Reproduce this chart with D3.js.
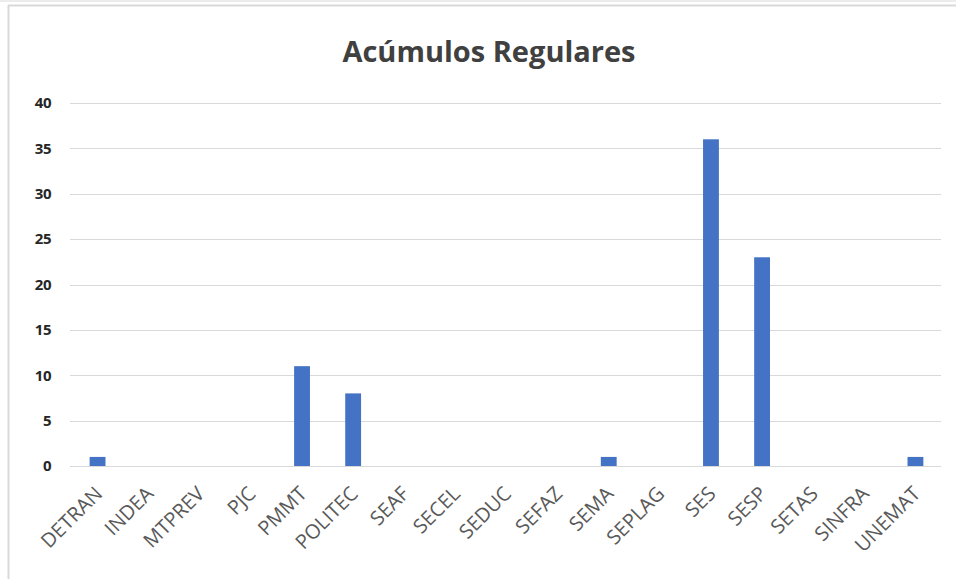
<!DOCTYPE html>
<html><head><meta charset="utf-8">
<script src="https://cdn.jsdelivr.net/npm/d3@7/dist/d3.min.js"></script>
<style>body{margin:0;background:#fff;} svg{display:block;}</style>
</head><body>
<script>
const categories = ["DETRAN","INDEA","MTPREV","PJC","PMMT","POLITEC","SEAF","SECEL","SEDUC","SEFAZ","SEMA","SEPLAG","SES","SESP","SETAS","SINFRA","UNEMAT"];
const values = [1,0,0,0,11,8,0,0,0,0,1,0,36,23,0,0,1];
const yTicks = [0,5,10,15,20,25,30,35,40];
const title = "Acúmulos Regulares";

const W = 956, H = 579;
const svg = d3.select("body").append("svg").attr("width", W).attr("height", H);
svg.append("rect").attr("width", W).attr("height", H).attr("fill", "#fff");
// frame
svg.append("line").attr("x1",0).attr("x2",W).attr("y1",1).attr("y2",1).attr("stroke","#ececec").attr("stroke-width",2);
svg.append("line").attr("x1",8).attr("x2",W).attr("y1",5.5).attr("y2",5.5).attr("stroke","#d9d9d9").attr("stroke-width",2);
svg.append("line").attr("x1",8.5).attr("x2",8.5).attr("y1",5).attr("y2",H).attr("stroke","#d9d9d9").attr("stroke-width",2);

const x = d3.scaleBand().domain(categories).range([72, 941]).paddingInner(0.69).paddingOuter(0.345);
const y = d3.scaleLinear().domain([0, 40]).range([466, 103]);

// gridlines
svg.append("g").selectAll("line").data(yTicks).join("line")
  .attr("x1", 70).attr("x2", 941)
  .attr("y1", d => Math.round(y(d)) + 0.5).attr("y2", d => Math.round(y(d)) + 0.5)
  .attr("stroke", "#d9d9d9").attr("stroke-width", 1.2);

// y labels
svg.append("g").selectAll("text").data(yTicks).join("text")
  .attr("x", 51).attr("y", d => y(d)).attr("dy", "0.35em")
  .attr("text-anchor", "end")
  .attr("font-family", "'Open Sans', sans-serif")
  .attr("font-weight", "bold").attr("font-size", 15).attr("fill", "#262626")
  .attr("letter-spacing", "-0.5px")
  .text(d => d);

// bars
svg.append("g").selectAll("rect").data(values).join("rect")
  .attr("x", (d, i) => x(categories[i]))
  .attr("width", x.bandwidth())
  .attr("y", d => y(d))
  .attr("height", d => y(0) - y(d))
  .attr("fill", "#4472c4");

// x labels
svg.append("g").selectAll("text").data(categories).join("text")
  .attr("transform", d => `translate(${x(d) + x.bandwidth()/2 + 6},${495}) rotate(-45)`)
  .attr("text-anchor", "end")
  .attr("font-family", "'Open Sans', sans-serif")
  .attr("font-size", 20).attr("fill", "#595959")
  .text(d => d);

// title
svg.append("text").attr("x", 489).attr("y", 62).attr("text-anchor", "middle")
  .attr("font-family", "'Open Sans', sans-serif")
  .attr("font-weight", "bold").attr("font-size", 29).attr("fill", "#404040")
  .text(title);
</script>
</body></html>
